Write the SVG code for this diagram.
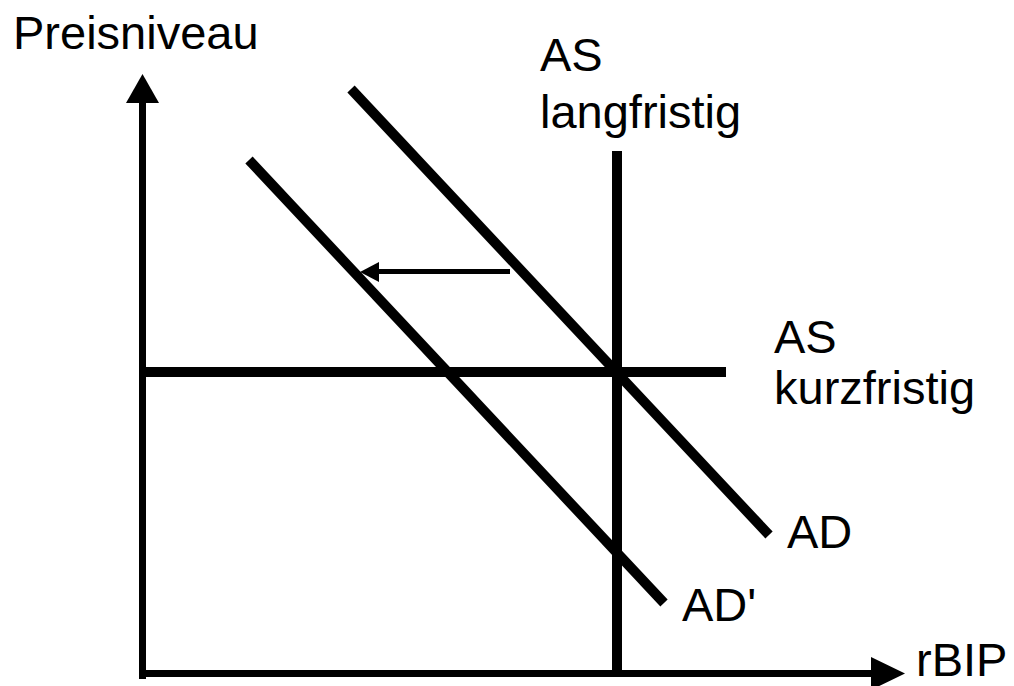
<svg xmlns="http://www.w3.org/2000/svg" width="1014" height="686" viewBox="0 0 1014 686">
<style>
.t{font-family:"Liberation Sans",Arial,sans-serif;font-size:47px;fill:#000}
.ax{stroke:#000;stroke-width:7;fill:none}
.ln{stroke:#000;stroke-width:10;fill:none}
</style>
<rect width="1014" height="686" fill="#fff"/>
<g id="axes">
<line class="ax" x1="142.5" y1="100" x2="142.5" y2="679"/>
<polygon points="126,103 159,103 142.5,74"/>
<line class="ax" x1="139" y1="673.5" x2="875" y2="673.5"/>
<polygon points="871,657 871,690 905,673.5"/>
</g>
<g id="connectors">
<line class="ln" x1="617" y1="151" x2="617" y2="670"/>
<line class="ln" x1="146" y1="372" x2="726" y2="372"/>
<line class="ln" x1="351" y1="89" x2="769" y2="535"/>
<line class="ln" x1="249" y1="160" x2="664" y2="603"/>
<line stroke="#000" stroke-width="5" x1="376" y1="271.5" x2="510" y2="271.5"/>
<polygon points="379,262 379,282 360,272"/>
</g>
<g id="labels">
<text class="t" x="13" y="49">Preisniveau</text>
<text class="t" x="540" y="71">AS</text>
<text class="t" x="540" y="128">langfristig</text>
<text class="t" x="774" y="353">AS</text>
<text class="t" x="774" y="404">kurzfristig</text>
<text class="t" x="787" y="548">AD</text>
<text class="t" x="682" y="621">AD'</text>
<text class="t" x="916" y="676">rBIP</text>
</g>
</svg>
